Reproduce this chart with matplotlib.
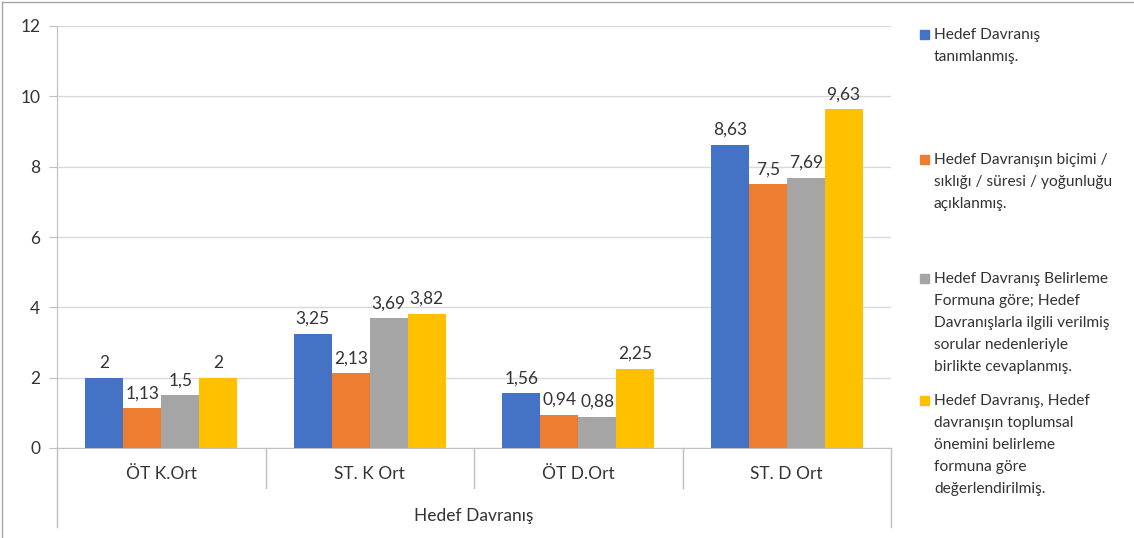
import numpy as np
import matplotlib.pyplot as plt
from matplotlib.lines import Line2D
from matplotlib.patches import Rectangle

plt.rcParams['font.family'] = ['Lato', 'DejaVu Sans']

categories = ['ÖT K.Ort', 'ST. K Ort', 'ÖT D.Ort', 'ST. D Ort']
series_names = ['Hedef Davranış\ntanımlanmış.',
                'Hedef Davranışın biçimi /\nsıklığı / süresi / yoğunluğu\naçıklanmış.',
                'Hedef Davranış Belirleme\nFormuna göre; Hedef\nDavranışlarla ilgili verilmiş\nsorular nedenleriyle\nbirlikte cevaplanmış.',
                'Hedef Davranış, Hedef\ndavranışın toplumsal\nönemini belirleme\nformuna göre\ndeğerlendirilmiş.']
values = [
    [2, 3.25, 1.56, 8.63],
    [1.13, 2.13, 0.94, 7.5],
    [1.5, 3.69, 0.88, 7.69],
    [2, 3.82, 2.25, 9.63],
]
value_labels = [
    ['2', '3,25', '1,56', '8,63'],
    ['1,13', '2,13', '0,94', '7,5'],
    ['1,5', '3,69', '0,88', '7,69'],
    ['2', '3,82', '2,25', '9,63'],
]
colors = ['#4472C4', '#ED7D31', '#A5A5A5', '#FFC000']
axis_title = 'Hedef Davranış'

text_col = '#333333'
line_col = '#bfbfbf'

fig = plt.figure(figsize=(11.34, 5.38), dpi=100)
ax = fig.add_axes([57 / 1134, 1 - 448 / 538, (891 - 57) / 1134, (448 - 26) / 538])

x = np.arange(len(categories))
w = 0.182
for i in range(4):
    pos = x + (i - 1.5) * w
    ax.bar(pos, values[i], width=w, color=colors[i], zorder=3)
    for px, v, lab in zip(pos, values[i], value_labels[i]):
        ax.annotate(lab, (px, v), xytext=(0, 5), textcoords='offset points',
                    ha='center', va='bottom', fontsize=12.5, color=text_col)

ax.set_xlim(-0.5, 3.5)
ax.set_ylim(0, 12)
ax.set_yticks(np.arange(0, 13, 2))
ax.yaxis.grid(True, color='#d9d9d9', lw=1, zorder=0)
ax.tick_params(axis='y', length=6, color=line_col, labelsize=12.5, labelcolor=text_col, pad=6)
ax.tick_params(axis='x', length=0, labelbottom=False)
for s in ['top', 'right']:
    ax.spines[s].set_visible(False)
ax.spines['left'].set_color(line_col)
ax.spines['bottom'].set_color(line_col)

# multi-level category axis
trans = ax.get_xaxis_transform()
ax.plot([-0.5, -0.5], [0, -79 / 422], transform=trans, color=line_col, lw=1, clip_on=False)
ax.plot([3.5, 3.5], [0, -79 / 422], transform=trans, color=line_col, lw=1, clip_on=False)
for b in [0.5, 1.5, 2.5]:
    ax.plot([b, b], [0, -40 / 422], transform=trans, color=line_col, lw=1, clip_on=False)
for xi, c in zip(x, categories):
    ax.text(xi, -26 / 422, c, transform=trans, ha='center', va='center',
            fontsize=12.5, color=text_col)
ax.text(1.5, -68 / 422, axis_title, transform=trans, ha='center', va='center',
        fontsize=12.5, color=text_col)

# legend
leg_y = [35, 160, 279, 401]
for name, col, yy in zip(series_names, colors, leg_y):
    fig.add_artist(Rectangle((920 / 1134, 1 - (yy + 4) / 538), 9 / 1134, 9 / 538,
                             color=col, transform=fig.transFigure))
    fig.text(934 / 1134, 1 - (yy - 7) / 538, name, ha='left', va='top',
             fontsize=11.2, color=text_col, linespacing=1.72)

# chart border
fig.add_artist(Line2D([2 / 1134, 1], [1 - 2 / 538, 1 - 2 / 538], color='#a6a6a6', lw=1))
fig.add_artist(Line2D([2 / 1134, 2 / 1134], [0, 1 - 2 / 538], color='#a6a6a6', lw=1))

fig.savefig('out.png', dpi=100)
